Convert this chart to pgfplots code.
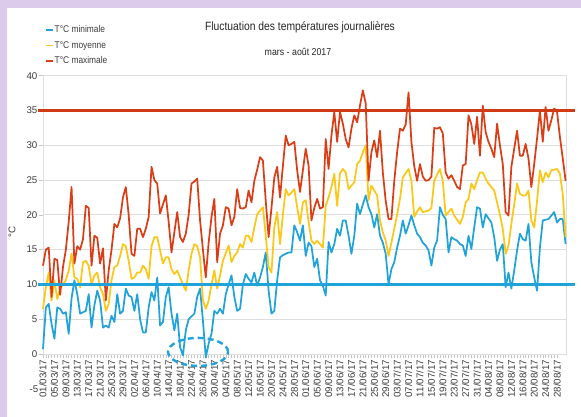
\documentclass[border=0pt]{standalone}
\usepackage{fontspec}
\setmainfont{Liberation Sans}
\usepackage{graphicx}
\usepackage{pgfplots}
\pgfplotsset{compat=1.18}
\usepackage{pgfplotstable}
\definecolor{cmin}{RGB}{32,163,218}
\definecolor{cmoy}{RGB}{252,199,22}
\definecolor{cmax}{RGB}{219,62,22}
\definecolor{bgl}{RGB}{221,203,236}
\definecolor{gridc}{RGB}{222,222,222}
\definecolor{txt}{RGB}{60,60,60}
\pgfplotstableread{
d tmin tmoy tmax
0 0.7 6.5 12.7
1 6.7 9.6 15
2 7.2 11.7 15.3
3 4.3 7.7 8.2
4 2.2 10.6 13.7
5 6.7 7.9 13.5
6 6.5 9.4 8.5
7 5.8 10 12.5
8 6 10.6 15
9 2.9 12 19
10 8 14.4 24
11 10.6 11 13
12 8.6 10.8 15.5
13 5.8 9.6 15
14 6 13.2 16.5
15 6.2 13.4 21.3
16 8.6 12.7 21
17 3.8 10 12.7
18 7 11.3 17
19 9.1 11.7 16.7
20 7.7 9.6 13
21 3.8 8.6 15.2
22 4.1 6.2 7.7
23 3.8 7.2 12
24 5.5 10.6 15
25 4.6 12.5 18.7
26 8.6 12.7 18.2
27 5.8 14.1 19.5
28 6.2 15.8 22.5
29 9.4 15.5 24
30 8.4 13.4 20
31 8.2 10.8 14.4
32 6.2 11 14.1
33 8.6 11.7 18
34 5 11.7 18
35 3.1 12.7 16.8
36 3.1 12.2 18
37 6.7 10.8 19.7
38 8.9 15.5 26.9
39 7.7 16.8 25
40 11 16.8 24.5
41 4.1 14.9 20.2
42 4.6 13 21.5
43 8.2 13.9 22.8
44 9.6 13.9 19
45 5.8 12.2 14.6
46 3.4 11.5 17.5
47 5.8 12 20.4
48 1 11 16.8
49 -0.2 10 16.1
50 3.4 9.1 17.3
51 5 12 20
52 5.4 14.4 24.5
53 5.8 15.8 24.8
54 8.2 15.5 25.2
55 9.4 13.9 19.2
56 4.8 7.7 15
57 -0.5 6.5 11
58 1.5 7.7 16
59 2.9 10 19.7
60 6.2 12 22.3
61 5.8 9.4 13.2
62 6.5 11.3 17.3
63 5.8 13.4 18.5
64 8.6 14.5 21.1
65 10 15.6 20.9
66 11.3 13.2 18.5
67 8.2 14.1 19.7
68 6.2 14.6 23.7
69 6.5 15.8 21
70 10 15.3 20.9
71 11.5 17 21.1
72 10.8 17 23.5
73 10.3 16.1 21.8
74 11.7 18.2 24.9
75 9.8 20.1 26.5
76 11 20.6 28.3
77 12.5 21.1 27.8
78 14.6 17 22
79 9.1 12.5 16.8
80 5.8 11.7 21
81 6.2 18.2 25.4
82 10.6 20.4 26.9
83 13.9 15.8 22.5
84 14.2 20 27
85 14.4 23.7 31.4
86 14.6 22.8 30
87 14.6 23.2 30.2
88 18.5 23.7 30.5
89 17.5 21.1 26.4
90 16.3 18.7 23.3
91 18.5 21.8 26.4
92 14.1 22.1 29.5
93 16 19 27.1
94 15.5 16.3 19.2
95 12.5 15.8 21
96 13.7 16.3 22.3
97 10.6 15.8 20.9
98 9.8 15.3 21.1
99 8.4 21.3 30.9
100 16.1 22.5 26.6
101 14.6 24 31.4
102 15.8 25.9 34.8
103 18 21.3 30.5
104 17 26 34.8
105 19.2 26.6 33.1
106 19.2 26.1 30.9
107 17 23.7 29.7
108 14.4 24.2 32.4
109 17 24.7 34.3
110 21.6 27.3 33.3
111 20.1 27.8 35.7
112 21.5 29 37.9
113 22.8 30 36
114 21.1 22.1 24.9
115 20.1 24.2 29
116 18.2 23.5 30.7
117 20.1 22.8 28.3
118 17 19.2 32.1
119 16 17.5 26.1
120 14.4 16.3 22
121 10 14.1 19.4
122 12.2 16 19.4
123 13.2 18 24.9
124 15.3 20 29
125 17 22.3 32.4
126 19.2 25.4 32.1
127 17.3 26 33
128 18.5 26.6 37.6
129 19.9 24.9 30.5
130 18.5 19.7 27
131 17.3 20.5 24.9
132 16.8 21.1 27.3
133 16 20.4 25.5
134 15.6 20.5 24.9
135 14.9 20.6 25
136 12.7 21 25.5
137 15.3 24.9 32.5
138 16.3 25.8 32.4
139 21.1 26.6 32.6
140 20 24.9 31.7
141 19.4 19.9 26.1
142 14.6 20.4 25.2
143 16.8 20.9 25.7
144 16.5 19.9 24.9
145 16.3 19.3 24
146 15.8 18.7 23.7
147 15.6 19.7 27.1
148 14.1 21.8 27.3
149 17 22.3 34.3
150 15.1 24.5 33
151 18.2 23.7 30.2
152 21.1 25 34.1
153 20.9 26.1 28.5
154 18.2 26.1 35.7
155 20.1 25.2 31.9
156 19.5 24.5 30.5
157 18.9 24 29.5
158 16.8 23.5 28.3
159 13.4 21.8 33.1
160 15 20 30
161 15.8 18 27.3
162 9.6 14.4 20.4
163 11.7 15.6 19.9
164 9.4 18.7 26.9
165 12 21.5 29.5
166 14.9 24.5 32.1
167 17.3 23 28.5
168 16.5 22.8 28.5
169 16.3 22.8 30.2
170 18.7 23.5 28.1
171 13.2 19.2 24
172 11 18.2 27.3
173 9.1 22 31
174 15.3 26.4 35
175 19.2 24.7 30.5
176 19.3 26.1 35.5
177 19.4 25.4 32.1
178 19.9 26.4 33.6
179 20.4 26.5 35.3
180 18.9 26.6 34.8
181 19.4 25.9 31.2
182 19.4 23 28.1
183 15.8 16.8 24.9
}\temps
\begin{document}
\begin{tikzpicture}
\useasboundingbox (0,0) rectangle (581*0.75pt,-417*0.75pt);
\fill[bgl] (0,0) rectangle (581*0.75pt,-417*0.75pt);
\fill[white] (7*0.75pt,-8*0.75pt) rectangle (581*0.75pt,-417*0.75pt);
\node[font=\fontsize{9}{10}\selectfont, text=black!85] at (300*0.75pt,-27*0.75pt) {\scalebox{0.86}[1]{Fluctuation des températures journalières}};
\node[font=\fontsize{7.5}{9}\selectfont, text=black!85] at (298*0.75pt,-52*0.75pt) {\scalebox{0.88}[1]{mars - août 2017}};
\begin{axis}[
  at={(43*0.75pt,-354*0.75pt)}, anchor=south west,
  scale only axis, width=392.6pt, height=208.7pt,
  xmin=0, xmax=183.3, ymin=0, ymax=40,
  ytick={0,5,...,40},
  xtick={0,4,...,180},
  minor x tick num=3,
  xticklabels={01/03/17,05/03/17,09/03/17,13/03/17,17/03/17,21/03/17,25/03/17,29/03/17,02/04/17,06/04/17,10/04/17,14/04/17,18/04/17,22/04/17,26/04/17,30/04/17,04/05/17,08/05/17,12/05/17,16/05/17,20/05/17,24/05/17,28/05/17,01/06/17,05/06/17,09/06/17,13/06/17,17/06/17,21/06/17,25/06/17,29/06/17,03/07/17,07/07/17,11/07/17,15/07/17,19/07/17,23/07/17,27/07/17,31/07/17,04/08/17,08/08/17,12/08/17,16/08/17,20/08/17,24/08/17,28/08/17},
  x tick label style={rotate=90, anchor=east, font=\fontsize{7.3}{8}\selectfont, text=txt, inner sep=1.2pt},
  y tick label style={font=\fontsize{7.3}{8}\selectfont, text=txt, inner sep=1pt},
  /pgf/number format/assume math mode=true,
  tick align=outside,
  xtick pos=lower, ytick pos=left,
  major tick length=3pt, minor tick length=3pt,
  tick style={gray!45, line width=0.4pt},
  ymajorgrids, grid style={gridc, line width=0.6pt},
  axis line style={gridc, line width=0.6pt},
  clip=false,
  ylabel={°C},
  every axis y label/.style={at={(axis description cs:-0.059,0.4375)}, rotate=90, anchor=center, font=\fontsize{7.3}{8}\selectfont, text=txt},
  legend style={at={(axis description cs:0,1)}, anchor=north west, xshift=1.5pt, yshift=38.5pt, draw=none, fill=none, font=\fontsize{7.3}{8}\selectfont, text=txt, row sep=3.4pt, inner sep=0pt, nodes={inner sep=0.6pt, text height=5.5pt, text depth=1.5pt}},
  legend cell align=left,
  legend image code/.code={\draw[#1, line width=1.2pt] (0pt,0pt) -- (5.3pt,0pt);},
]
\addplot[cmin, line width=1.3pt, line join=round] table[x=d, y=tmin] {\temps};
\addlegendentry{\scalebox{0.86}[1]{T°C minimale}}
\addplot[cmoy, line width=1.3pt, line join=round] table[x=d, y=tmoy] {\temps};
\addlegendentry{\scalebox{0.86}[1]{T°C moyenne}}
\addplot[cmax, line width=1.3pt, line join=round] table[x=d, y=tmax] {\temps};
\addlegendentry{\scalebox{0.86}[1]{T°C maximale}}
\addplot[cmax!95!black, line width=2.5pt, forget plot] coordinates {(-1.75,35) (186.3,35)};
\addplot[cmin, line width=2.5pt, forget plot] coordinates {(-1.75,10) (186.3,10)};
\draw[cmin, line width=1.8pt, dash pattern=on 4.5pt off 3pt] (axis cs:54.3,0.3) ellipse [x radius=22.5pt, y radius=10.5pt];
\node[anchor=east, font=\fontsize{7.3}{8}\selectfont, text=txt, inner sep=1pt] at (axis cs:-1.05,-5) {-5};
\end{axis}
\end{tikzpicture}
\end{document}
